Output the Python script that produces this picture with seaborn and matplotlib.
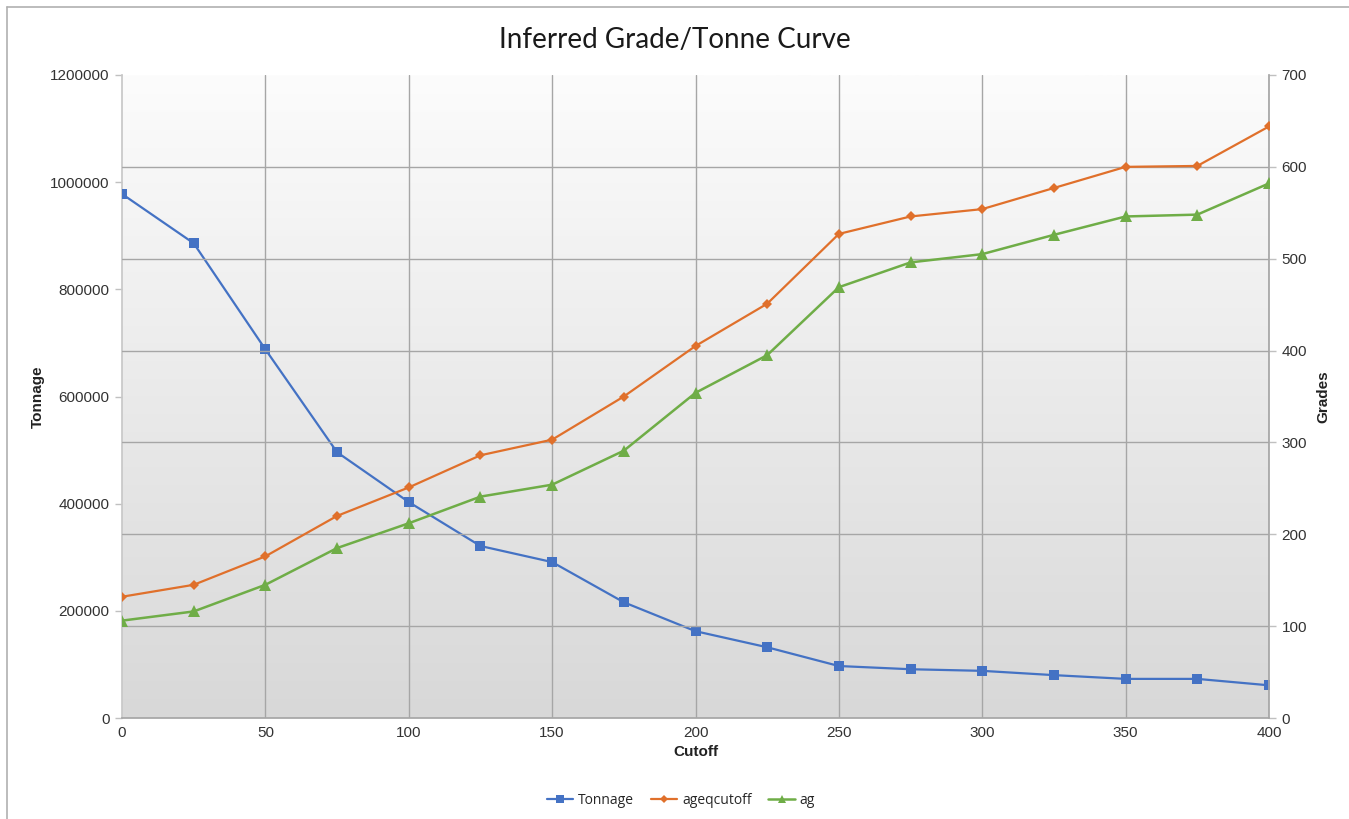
import numpy as np
import pandas as pd
import matplotlib
matplotlib.use("Agg")
import matplotlib.pyplot as plt
from matplotlib.lines import Line2D
import seaborn as sns

cutoff = [0, 25, 50, 75, 100, 125, 150, 175, 200, 225, 250, 275, 300, 325, 350, 375, 400]
tonnage = [978000, 886000, 688000, 496000, 403000, 321000, 291000, 216000, 162000,
           132000, 97000, 91000, 88000, 80000, 73000, 73000, 61000]
ageqcutoff = [132, 145, 176, 220, 251, 286, 303, 350, 405, 451, 527, 546, 554, 577, 600, 601, 644]
ag = [106, 116, 145, 185, 212, 241, 254, 291, 354, 395, 469, 496, 505, 526, 546, 548, 582]

left_ticks = [0, 200000, 400000, 600000, 800000, 1000000, 1200000]
right_ticks = [0, 100, 200, 300, 400, 500, 600, 700]
x_ticks = [0, 50, 100, 150, 200, 250, 300, 350, 400]

df = pd.DataFrame({"Cutoff": cutoff, "Tonnage": tonnage,
                   "ageqcutoff": ageqcutoff, "ag": ag})

sns.set_theme(style="white")
plt.rcParams["font.family"] = ["Liberation Sans", "DejaVu Sans"]

c_ton = "#4472C4"
c_eq = "#E0702B"
c_ag = "#6FAD47"

fig = plt.figure(figsize=(13.49, 8.19), dpi=100)
fig.patch.set_facecolor("white")
ax = fig.add_axes([122 / 1349, 1 - 718 / 819, (1269 - 122) / 1349, (718 - 75) / 819])
ax2 = ax.twinx()

# vertical white-to-gray gradient behind the plot area
grad = np.linspace(0, 1, 256).reshape(-1, 1)
cmap = matplotlib.colors.LinearSegmentedColormap.from_list("bg", ["#fcfcfc", "#d8d8d8"])
ax.imshow(grad, cmap=cmap, aspect="auto", extent=[0, 1, 0, 1],
          transform=ax.transAxes, zorder=0)

# grid: vertical lines at x ticks, horizontal lines at grade ticks
for xv in x_ticks[1:]:
    ax.axvline(xv, color="#a6a6a6", lw=1.0, zorder=1)
for yv in right_ticks[1:-1]:
    ax2.axhline(yv, color="#a6a6a6", lw=1.0, zorder=1)

sns.lineplot(data=df, x="Cutoff", y="Tonnage", ax=ax, color=c_ton, marker="s",
             markersize=7, markeredgewidth=0, lw=1.6, zorder=3)
sns.lineplot(data=df, x="Cutoff", y="ageqcutoff", ax=ax2, color=c_eq, marker="D",
             markersize=5, markeredgewidth=0, lw=1.6, zorder=3)
sns.lineplot(data=df, x="Cutoff", y="ag", ax=ax2, color=c_ag, marker="^",
             markersize=8, markeredgewidth=0, lw=1.8, zorder=3)

ax.set_xlim(0, 400)
ax.set_ylim(0, 1200000)
ax2.set_ylim(0, 700)
ax.set_xticks(x_ticks)
ax.set_yticks(left_ticks)
ax2.set_yticks(right_ticks)
ax.set_xticklabels([str(v) for v in x_ticks])
ax.set_yticklabels([str(v) for v in left_ticks])
ax2.set_yticklabels([str(v) for v in right_ticks])

for a in (ax, ax2):
    a.tick_params(axis="both", labelsize=11, colors="#c0c0c0", labelcolor="#333333",
                  length=5, width=1, direction="out", pad=4)
    for s in a.spines.values():
        s.set_visible(False)
ax.spines["left"].set_visible(True)
ax.spines["left"].set_color("#c8c8c8")
ax.spines["bottom"].set_visible(True)
ax.spines["bottom"].set_color("#a6a6a6")
ax2.spines["right"].set_visible(True)
ax2.spines["right"].set_color("#a6a6a6")
ax.tick_params(axis="x", length=0, pad=6)
ax.patch.set_alpha(0)
ax2.patch.set_alpha(0)
ax.grid(False)
ax2.grid(False)
ax2.set_zorder(ax.get_zorder() + 1)

ax.set_xlabel("Cutoff", fontsize=11, fontweight="bold", color="#222222", labelpad=3)
ax.set_ylabel("Tonnage", fontsize=11, fontweight="bold", color="#222222", labelpad=4)
ax2.set_ylabel("Grades", fontsize=11, fontweight="bold", color="#222222", labelpad=7)

fig.text(0.5, 1 - 40 / 819, "Inferred Grade/Tonne Curve", ha="center", va="center",
         fontsize=20, family=["Lato", "DejaVu Sans"], color="#1a1a1a")

handles = [
    Line2D([], [], color=c_ton, marker="s", markersize=6, markeredgewidth=0, lw=1.6),
    Line2D([], [], color=c_eq, marker="D", markersize=4, markeredgewidth=0, lw=1.6),
    Line2D([], [], color=c_ag, marker="^", markersize=6, markeredgewidth=0, lw=1.8),
]
fig.legend(handles, ["Tonnage", "ageqcutoff", "ag"], loc="center",
           bbox_to_anchor=(681 / 1349, 1 - 800 / 819), ncol=3, frameon=False,
           handlelength=1.9, handletextpad=0.35, columnspacing=1.2,
           prop={"family": ["Open Sans", "DejaVu Sans"], "size": 10})

# outer chart frame (top and left edges)
fig.add_artist(Line2D([7 / 1349, 1], [1 - 7 / 819, 1 - 7 / 819],
                      transform=fig.transFigure, color="#b0b0b0", lw=1.2))
fig.add_artist(Line2D([7 / 1349, 7 / 1349], [0, 1 - 7 / 819],
                      transform=fig.transFigure, color="#b0b0b0", lw=1.2))

fig.savefig("out.png", dpi=100)
